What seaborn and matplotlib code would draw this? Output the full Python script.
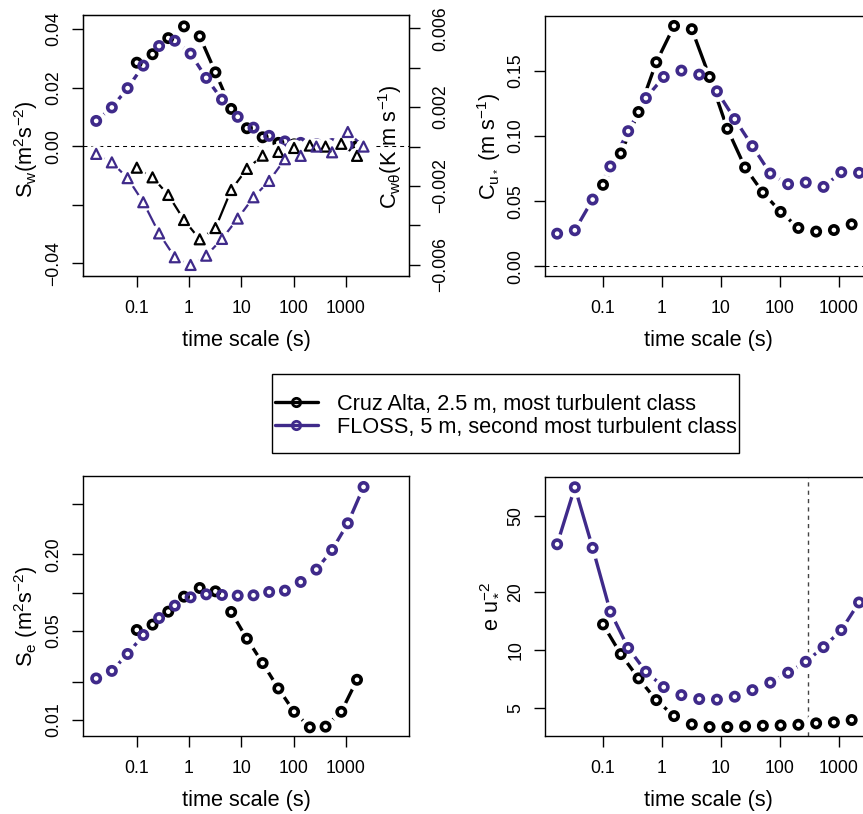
import matplotlib
matplotlib.use("Agg")
import matplotlib.pyplot as plt
import seaborn as sns
import pandas as pd
from matplotlib.ticker import NullLocator
from matplotlib.lines import Line2D
from matplotlib.patches import Rectangle

# ---------------- data ----------------
t_cruz = [0.1, 0.2, 0.4, 0.8, 1.6, 3.2, 6.4, 12.8, 25.6, 51.2, 102.4, 204.8, 409.6, 819.2, 1638.4]
t_floss = [0.0167, 0.0333, 0.0667, 0.133, 0.267, 0.533, 1.07, 2.13, 4.27, 8.53,
           17.1, 34.1, 68.3, 137.0, 273.0, 546.0, 1092.0, 2185.0]

sw_cruz = [0.0285, 0.0314, 0.0369, 0.0409, 0.0375, 0.0252, 0.0127, 0.0061, 0.0030,
           0.0011, 0.0006, 0.0002, 0.0000, 0.0000, 0.0000]
sw_floss = [0.0086, 0.0132, 0.0198, 0.0275, 0.0342, 0.0360, 0.0316, 0.0233, 0.0159,
            0.0100, 0.0063, 0.0035, 0.0016, 0.0011, 0.0007, 0.0007, 0.0003, 0.0003]
cwt_cruz = [-0.00107, -0.00156, -0.00245, -0.00372, -0.00470, -0.00413, -0.00220, -0.00113,
            -0.00046, -0.00027, -0.00007, 0.00005, 0.00000, 0.00014, -0.00047]
cwt_floss = [-0.00037, -0.00080, -0.00160, -0.00282, -0.00440, -0.00561, -0.00600, -0.00553,
             -0.00468, -0.00365, -0.00257, -0.00174, -0.00064, -0.00047, 0.00000, -0.00029,
             0.00074, 0.00000]
cu_cruz = [0.0626, 0.0867, 0.1185, 0.1567, 0.1846, 0.1821, 0.1454, 0.1056, 0.0759,
           0.0567, 0.0418, 0.0295, 0.0267, 0.0279, 0.0323]
cu_floss = [0.0251, 0.0277, 0.0513, 0.0767, 0.1038, 0.1292, 0.1454, 0.1503, 0.1472,
            0.1344, 0.1131, 0.0923, 0.0713, 0.0631, 0.0644, 0.0610, 0.0723, 0.0718]
se_cruz = [0.0509, 0.0561, 0.0709, 0.0930, 0.1088, 0.1024, 0.0705, 0.0435, 0.0280,
           0.0177, 0.0116, 0.00876, 0.00887, 0.0116, 0.0207]
se_floss = [0.0212, 0.0243, 0.0330, 0.0465, 0.0632, 0.0790, 0.0919, 0.0970, 0.0959,
            0.0947, 0.0953, 0.1012, 0.1037, 0.1213, 0.1517, 0.2163, 0.3505, 0.676]
eu_cruz = [13.65, 9.57, 7.16, 5.52, 4.56, 4.13, 4.00, 4.00, 4.03, 4.06, 4.08, 4.11,
           4.18, 4.23, 4.35]
eu_floss = [35.6, 70.4, 34.1, 15.9, 10.3, 7.75, 6.45, 5.86, 5.59, 5.55, 5.75, 6.22,
            6.80, 7.66, 8.73, 10.4, 12.75, 17.75]

t_ref = 300.0  # vertical reference line (s)

time_ticks = [0.1, 1, 10, 100, 1000]
time_labels = ["0.1", "1", "10", "100", "1000"]
sw_ticks = [-0.04, -0.02, 0.0, 0.02, 0.04]
sw_labels = ["\u22120.04", "", "0.00", "0.02", "0.04"]
cwt_ticks = [-0.006, -0.004, -0.002, 0.0, 0.002, 0.004, 0.006]
cwt_labels = ["\u22120.006", "", "\u22120.002", "", "0.002", "", "0.006"]
cu_ticks = [0.0, 0.05, 0.10, 0.15]
cu_labels = ["0.00", "0.05", "0.10", "0.15"]
se_ticks = [0.01, 0.02, 0.05, 0.1, 0.2, 0.5]
se_labels = ["0.01", "", "0.05", "", "0.20", ""]
eu_ticks = [5, 10, 20, 50]
eu_labels = ["5", "10", "20", "50"]

legend_labels = ["Cruz Alta, 2.5 m, most turbulent class",
                 "FLOSS, 5 m, second most turbulent class"]

# ---------------- style ----------------
sns.set_style("ticks", rc={"axes.edgecolor": "black", "xtick.color": "black",
                           "ytick.color": "black", "text.color": "black",
                           "axes.labelcolor": "black"})
plt.rcParams.update({
    "font.family": ["Liberation Sans", "DejaVu Sans"],
    "mathtext.fontset": "custom",
    "mathtext.rm": "Liberation Sans",
    "mathtext.it": "Liberation Sans:italic",
    "mathtext.bf": "Liberation Sans:bold",
    "mathtext.sf": "Liberation Sans",
    "axes.unicode_minus": True,
})

BLACK = "#000000"
PURPLE = "#3F2A8A"
FS = 15.7
TFS = 12.7
PX = 0.72  # points per pixel at 100 dpi

W, H = 863, 814
fig = plt.figure(figsize=(W / 100, H / 100), dpi=100)


def px_axes(l, t, r, b):
    return fig.add_axes([l / W, 1 - b / H, (r - l) / W, (b - t) / H])


def draw_series(ax, x, y, color, marker, ms, mew, lw, halo):
    df = pd.DataFrame({"x": x, "y": y})
    sns.lineplot(data=df, x="x", y="y", ax=ax, color=color, lw=lw, sort=False,
                 estimator=None, zorder=2, legend=False, solid_capstyle="butt")
    sns.scatterplot(data=df, x="x", y="y", ax=ax, color="white", s=halo ** 2,
                    linewidth=0, marker="o", zorder=3, legend=False)
    sns.scatterplot(data=df, x="x", y="y", ax=ax, marker=marker, s=ms ** 2,
                    facecolor="none", edgecolor=color, linewidth=mew, zorder=4,
                    legend=False)


def style_axes(ax, xlim, hpx, wpx, ylabel, ycen_frac):
    ax.set_xscale("log")
    ax.set_xlim(xlim)
    ax.set_xticks(time_ticks, time_labels, fontsize=TFS)
    ax.xaxis.set_minor_locator(NullLocator())
    ax.tick_params(axis="both", which="major", length=11 * PX, width=1.0,
                   direction="out", color="black")
    ax.tick_params(axis="x", pad=9.5)
    ax.tick_params(axis="y", pad=7.1)
    for s in ax.spines.values():
        s.set_linewidth(1.0)
        s.set_color("black")
        s.set_zorder(10)
    ax.set_xlabel("time scale (s)", fontsize=FS)
    ax.xaxis.label.set_va("baseline")
    ax.xaxis.set_label_coords(0.5, -70 / hpx)
    ax.set_ylabel(ylabel, fontsize=FS)
    lab = ax.yaxis.label
    lab.set_rotation_mode("anchor")
    lab.set_va("baseline")
    lab.set_ha("center")
    ax.yaxis.set_label_coords(-50.7 / wpx, ycen_frac)
    ax.set_facecolor("white")


L_LEFT, L_RIGHT = 83.4, 409.4
R_LEFT, R_RIGHT = 545.3, 870.7
xlim_left = (10 ** -2.022, 10 ** 4.217)
xlim_right = (10 ** -1.978, 10 ** 3.537)

LW_C = 2.4
LW_T = 1.6
HALO_C = 15.0
HALO_T = 13.0

# ---- top left: S_w and C_wtheta ----
ax1 = px_axes(L_LEFT, 15, L_RIGHT, 276)
ax1.axhline(0, color="black", lw=0.75, ls=(0, (3.8, 3.8)), zorder=1)
draw_series(ax1, t_cruz, sw_cruz, BLACK, "o", 6.0, 2.6, LW_C, HALO_C)
draw_series(ax1, t_floss, sw_floss, PURPLE, "o", 6.0, 2.6, LW_C, HALO_C)
ax1.set_ylim(-0.0444, 0.0448)
ax1.set_yticks(sw_ticks, sw_labels, fontsize=TFS, rotation=90, va="center")
style_axes(ax1, xlim_left, 261, 326, r"$\mathrm{S_w(m^2s^{-2})}$", 1 - (149.5 - 15) / 261)

ax1b = ax1.twinx()
draw_series(ax1b, t_cruz, cwt_cruz, BLACK, "^", 7.2, 1.6, LW_T, HALO_T)
draw_series(ax1b, t_floss, cwt_floss, PURPLE, "^", 7.2, 1.6, LW_T, HALO_T)
ax1b.set_ylim(-0.00656, 0.00667)
ax1b.set_yticks(cwt_ticks, cwt_labels, fontsize=TFS, rotation=90, va="center")
ax1b.tick_params(axis="y", length=11 * PX, width=1.0, direction="out", pad=8.4)
ax1b.set_xlim(xlim_left)
for s in ax1b.spines.values():
    s.set_zorder(10)
ax1b.set_ylabel(r"$\mathrm{C_{w\theta}(K\ m\ s^{-1})}$", fontsize=FS)
labb = ax1b.yaxis.label
labb.set_rotation(90)
labb.set_rotation_mode("anchor")
labb.set_va("baseline")
labb.set_ha("center")
ax1b.yaxis.set_label_coords((396.5 - L_LEFT) / 326, 1 - (146.7 - 15) / 261)

# ---- top right: C_u* ----
ax2 = px_axes(R_LEFT, 15.5, R_RIGHT, 276)
ax2.axhline(0, color="black", lw=0.75, ls=(0, (3.8, 3.8)), zorder=1)
draw_series(ax2, t_cruz, cu_cruz, BLACK, "o", 6.0, 2.6, LW_C, HALO_C)
draw_series(ax2, t_floss, cu_floss, PURPLE, "o", 6.0, 2.6, LW_C, HALO_C)
ax2.set_ylim(-0.0074, 0.1926)
ax2.set_yticks(cu_ticks, cu_labels, fontsize=TFS, rotation=90, va="center")
style_axes(ax2, xlim_right, 260.5, 325.4, r"$\mathrm{C_{u_*}\ (m\ s^{-1})}$",
           1 - (146 - 15.5) / 260.5)

# ---- bottom left: S_e ----
ax3 = px_axes(L_LEFT, 476, L_RIGHT, 736)
ax3.set_yscale("log")
draw_series(ax3, t_cruz, se_cruz, BLACK, "o", 6.0, 2.6, LW_C, HALO_C)
draw_series(ax3, t_floss, se_floss, PURPLE, "o", 6.0, 2.6, LW_C, HALO_C)
ax3.set_ylim(0.00749, 0.824)
ax3.set_yticks(se_ticks, se_labels, fontsize=TFS, rotation=90, va="center")
ax3.yaxis.set_minor_locator(NullLocator())
style_axes(ax3, xlim_left, 260, 326, r"$\mathrm{S_e\ (m^2s^{-2})}$", 1 - (616.5 - 476) / 260)

# ---- bottom right: e u*^-2 ----
ax4 = px_axes(R_LEFT, 477, R_RIGHT, 736)
ax4.set_yscale("log")
ax4.axvline(t_ref, color="#444444", lw=1.0, ls=(0, (3.0, 3.0)), zorder=1)
draw_series(ax4, t_cruz, eu_cruz, BLACK, "o", 6.0, 2.6, LW_C, HALO_C)
draw_series(ax4, t_floss, eu_floss, PURPLE, "o", 6.0, 2.6, LW_C, HALO_C)
ax4.set_ylim(3.593, 79.6)
ax4.set_yticks(eu_ticks, eu_labels, fontsize=TFS, rotation=90, va="center")
ax4.yaxis.set_minor_locator(NullLocator())
style_axes(ax4, xlim_right, 259, 325.4, r"$\mathrm{e\ u_*^{-2}}$", 1 - (606.7 - 477) / 259)

# ---- legend ----
handles = [Line2D([], [], color=BLACK, lw=2.4, marker="o", ms=6, mew=2.0, mfc="none"),
           Line2D([], [], color=PURPLE, lw=2.4, marker="o", ms=6, mew=2.0, mfc="none")]
fig.legend(handles, legend_labels, loc="center left",
           bbox_to_anchor=(275 / W, 1 - 416 / H), frameon=False, fontsize=FS,
           handlelength=1.97, handletextpad=0.87, labelspacing=0.08,
           borderpad=0, borderaxespad=0)
fig.add_artist(Rectangle((271.7 / W, 1 - 453.3 / H), (739 - 271.7) / W, (453.3 - 374.3) / H,
                         transform=fig.transFigure, fill=False, lw=1.0, ec="black"))

fig.savefig("out.png", dpi=100, facecolor="white")
